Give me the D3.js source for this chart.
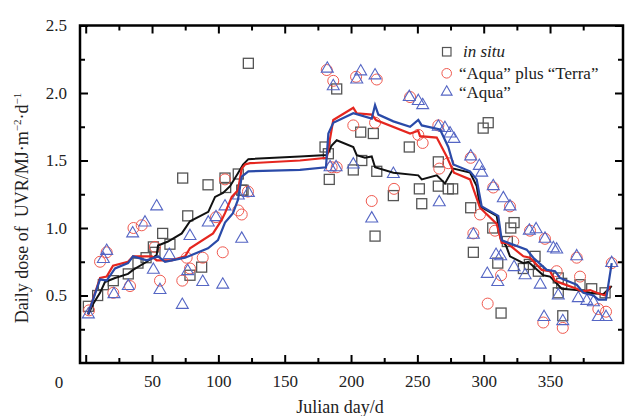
<!DOCTYPE html>
<html>
<head>
<meta charset="utf-8">
<script src="https://cdn.jsdelivr.net/npm/d3@7"></script>
<style>
body { margin: 0; background: #fff; }
text { font-family: "Liberation Serif", "Times New Roman", serif; }
</style>
</head>
<body>
<script>
// in situ measurements [julian day, dose]
var inSitu = [
  [2, 0.42], [9, 0.50], [13.3, 0.58], [20.8, 0.61], [32.1, 0.66], [39.4, 0.74],
  [45.5, 0.78], [51, 0.86], [52.2, 0.82], [58, 0.96], [63.5, 0.88], [73.1, 1.37],
  [76.9, 1.09], [78.6, 0.65], [87.4, 0.71], [92.2, 1.32], [105, 1.37], [105.5, 1.30],
  [115, 1.40], [117.6, 1.28], [118.6, 1.28], [122.6, 2.22],
  [180.4, 1.60], [182.9, 1.55], [183.6, 1.36], [189.2, 2.03], [201.7, 1.43],
  [207.3, 1.71], [208.1, 1.50], [216.8, 1.70], [218.1, 0.94], [219.4, 1.42],
  [231.9, 1.24], [243.9, 1.60], [251.5, 1.29], [253.3, 1.18], [265.8, 1.31],
  [265.8, 1.49], [273.3, 1.29], [276.6, 1.29], [290.2, 1.15], [292.2, 0.82],
  [299.6, 1.74], [303.4, 1.78], [306.8, 1.00], [310.6, 0.74], [313.1, 0.37],
  [317.8, 0.90], [320.4, 1.00], [322.9, 1.04], [329.9, 0.70], [334.4, 0.73],
  [338.7, 0.79], [341.2, 0.68], [356.2, 0.63], [356.2, 0.52], [358.8, 0.59],
  [359.6, 0.35], [372.6, 0.58], [381.4, 0.55], [391.5, 0.52]
];

// "Aqua" plus "Terra"
var aquaTerra = [
  [2.5, 0.39], [10.8, 0.75], [15.8, 0.82], [20.8, 0.52], [33.4, 0.57], [36, 1.00],
  [42.2, 1.02], [52.2, 0.86], [56, 0.61], [72.8, 0.61], [76.1, 0.78], [78.6, 0.70],
  [88.2, 0.78], [98.2, 1.08], [103.3, 0.82], [105, 1.36], [115, 1.13], [117.6, 1.10],
  [122.3, 1.27],
  [181.7, 2.17], [185.4, 1.45], [186.6, 2.09], [189.2, 1.45], [201.7, 1.76],
  [203.8, 2.12], [215.6, 1.20], [218.1, 1.78], [219.4, 2.10], [232.4, 1.29],
  [244.5, 1.97], [250.7, 1.69], [254, 1.63], [265.8, 1.76], [266.5, 1.44],
  [273.3, 1.48], [290.2, 1.52], [292.2, 0.96], [297.2, 1.10], [303, 0.44],
  [307.2, 1.30], [308.5, 0.98], [313.1, 0.65], [319.8, 1.16], [322.3, 0.90],
  [334.9, 0.98], [344.9, 0.30], [346.2, 0.92], [355, 0.68], [359.6, 0.26],
  [370.1, 0.78], [372.6, 0.64], [386.4, 0.40], [392.2, 0.38], [396.5, 0.74]
];

// "Aqua"
var aqua = [
  [2, 0.36], [13.3, 0.77], [15.8, 0.83], [21.3, 0.51], [32.1, 0.57], [35.4, 0.96],
  [44.7, 1.04], [51, 0.69], [53.5, 1.16], [56, 0.54], [63, 0.80], [72.8, 0.43],
  [76.9, 0.68], [78.6, 0.94], [88.2, 0.60], [92.4, 1.04], [98.2, 1.08], [103.3, 0.58],
  [105, 1.16], [115, 1.24], [117.6, 0.92], [122.6, 1.26],
  [182.1, 2.18], [184.2, 1.45], [186.6, 2.05], [188.7, 1.45], [201.7, 1.47],
  [204.3, 2.10], [207.3, 2.16], [215.6, 1.07], [218.1, 2.13], [231.9, 1.40],
  [243.9, 1.97], [250.7, 1.94], [254, 1.91], [265.8, 1.75], [266.5, 1.19],
  [270.8, 1.74], [274.6, 1.70], [277.6, 1.66], [290.2, 1.53], [292.2, 0.95],
  [296.7, 1.46], [298.5, 1.41], [302.7, 0.66], [307.2, 1.31], [309.3, 0.80],
  [310.6, 0.60], [312.8, 0.79], [314.8, 1.22], [319.8, 1.16], [322.9, 0.71],
  [331.2, 0.65], [334.4, 0.98], [339.5, 0.99], [342.6, 0.58], [345.5, 0.34],
  [346.2, 0.92], [352.5, 0.85], [355, 0.84], [356.2, 0.50], [359.6, 0.31],
  [370.1, 0.79], [371.3, 0.48], [377.7, 0.46], [382.7, 0.45], [386.4, 0.34],
  [392.2, 0.34], [396.5, 0.74]
];

// running curves
var inSituLine = [
  [2, 0.36], [5.7, 0.44], [10.8, 0.52], [14.5, 0.60], [22.1, 0.63], [31.9, 0.66],
  [35.7, 0.69], [46, 0.75], [53.5, 0.80], [54.5, 0.87], [62, 0.90], [72.4, 0.96],
  [78.6, 1.05], [92.4, 1.12], [97.5, 1.23], [103.5, 1.26], [108.8, 1.31], [115, 1.41],
  [118.6, 1.47], [122.6, 1.51], [161.5, 1.53], [181.7, 1.54], [185.4, 1.61],
  [189.2, 1.65], [201.7, 1.60], [204.3, 1.54], [210.5, 1.52], [215.6, 1.53],
  [218.1, 1.45], [231.9, 1.41], [250.7, 1.39], [253.3, 1.36], [264.6, 1.39],
  [270.8, 1.33], [277.1, 1.44], [289.7, 1.41], [294.7, 1.31], [297.2, 1.16],
  [309.8, 1.09], [312.8, 0.92], [316.8, 0.87], [319.8, 0.79], [329.9, 0.74],
  [333.6, 0.75], [344.9, 0.65], [350, 0.64], [355, 0.59], [358.8, 0.55],
  [370.1, 0.54], [380.2, 0.52], [390.2, 0.51], [396.5, 0.57]
];

var aquaTerraLine = [
  [1.7, 0.36], [10.8, 0.63], [15.8, 0.64], [20.6, 0.72], [31.9, 0.75], [35.7, 0.79],
  [49.8, 0.79], [53.5, 0.76], [64.8, 0.76], [74.9, 0.79], [78.6, 0.85], [96, 0.96],
  [102.5, 1.06], [105, 1.11], [110.1, 1.23], [114.8, 1.28], [117.6, 1.44],
  [120.1, 1.47], [123.8, 1.48], [161.5, 1.50], [181.7, 1.52], [186.6, 1.80],
  [201.7, 1.89], [204.3, 1.85], [215.6, 1.84], [218.8, 1.80], [244.5, 1.70],
  [250.7, 1.72], [252, 1.68], [264.6, 1.67], [272.1, 1.53], [277.6, 1.41],
  [289.7, 1.36], [297.2, 1.15], [309.8, 1.03], [313.6, 0.89], [317.4, 0.89],
  [329.9, 0.79], [334.9, 0.78], [343.7, 0.69], [350, 0.68], [353.8, 0.61],
  [358.8, 0.59], [370.1, 0.55], [373.9, 0.53], [380.2, 0.54], [385.2, 0.52],
  [391.5, 0.50], [395.2, 0.57]
];

var aquaLine = [
  [1.7, 0.36], [10.8, 0.62], [15.8, 0.61], [22.1, 0.70], [31.9, 0.74], [35.7, 0.79],
  [46, 0.76], [54.5, 0.79], [59.8, 0.75], [74.9, 0.78], [92.2, 0.85], [99.7, 0.91],
  [105, 1.04], [111, 1.11], [114.8, 1.21], [117.6, 1.38], [122.6, 1.42],
  [161.5, 1.43], [181.1, 1.45], [182.9, 1.70], [186.6, 1.78], [201.7, 1.85],
  [215.6, 1.81], [218.1, 1.91], [220.6, 1.84], [231.9, 1.79], [244.5, 1.75],
  [250.7, 1.80], [253.3, 1.76], [267.1, 1.73], [273.3, 1.60], [277.1, 1.47],
  [289.7, 1.42], [294.7, 1.36], [298.5, 1.16], [311, 1.09], [313.6, 0.91],
  [318.6, 0.89], [332.4, 0.84], [337.4, 0.78], [347.5, 0.69], [353.8, 0.68],
  [357.5, 0.63], [370.1, 0.58], [375.1, 0.52], [382.7, 0.50], [386.4, 0.47],
  [392.2, 0.47], [396.5, 0.74]
];

var xMajor = [0, 50, 100, 150, 200, 250, 300, 350];
var xMinor = [25, 75, 125, 175, 225, 275, 325, 375];
var yMajor = [0.5, 1.0, 1.5, 2.0, 2.5];
var yMinor = [0.25, 0.75, 1.25, 1.75, 2.25];
var legendLabels = ['in situ', '\u201cAqua\u201d plus \u201cTerra\u201d', '\u201cAqua\u201d'];

var serif = '"Liberation Serif", "Times New Roman", serif';

var svg = d3.select('body').append('svg')
    .attr('width', 625)
    .attr('height', 416);

var x = d3.scaleLinear().domain([-4.3, 405]).range([80, 623]);
var y = d3.scaleLinear().domain([0, 2.5]).range([363, 25.5]);

// axes, ticks pointing inward on all four sides
svg.append('g').attr('transform', 'translate(0,363)')
    .call(d3.axisBottom(x).tickValues(xMajor).tickSize(-8).tickPadding(12)
        .tickFormat(function(d) { return d === 0 ? '' : d; }));
svg.append('g').attr('transform', 'translate(0,363)')
    .call(d3.axisBottom(x).tickValues(xMinor).tickSize(-5).tickFormat(''));
svg.append('g').attr('transform', 'translate(0,25.5)')
    .call(d3.axisTop(x).tickValues(xMajor).tickSize(-8).tickFormat(''));
svg.append('g').attr('transform', 'translate(0,25.5)')
    .call(d3.axisTop(x).tickValues(xMinor).tickSize(-5).tickFormat(''));
svg.append('g').attr('transform', 'translate(80,0)')
    .call(d3.axisLeft(y).tickValues(yMajor).tickSize(-8).tickPadding(13)
        .tickFormat(d3.format('.1f')));
svg.append('g').attr('transform', 'translate(80,0)')
    .call(d3.axisLeft(y).tickValues(yMinor).tickSize(-5).tickFormat(''));
svg.append('g').attr('transform', 'translate(623,0)')
    .call(d3.axisRight(y).tickValues(yMajor).tickSize(-8).tickFormat(''));
svg.append('g').attr('transform', 'translate(623,0)')
    .call(d3.axisRight(y).tickValues(yMinor).tickSize(-5).tickFormat(''));

svg.selectAll('.domain').remove();
svg.selectAll('.tick line').attr('stroke', '#000').attr('stroke-width', 2);
svg.selectAll('.tick text')
    .attr('fill', '#222')
    .attr('font-family', serif)
    .style('font-family', serif)
    .style('font-size', '17px');

// frame
svg.append('rect')
    .attr('x', 80)
    .attr('y', 25.5)
    .attr('width', 543)
    .attr('height', 337.5)
    .attr('fill', 'none')
    .attr('stroke', '#000')
    .attr('stroke-width', 2.5);

// origin label
svg.append('text')
    .attr('x', 59)
    .attr('y', 388)
    .attr('text-anchor', 'middle')
    .attr('fill', '#222')
    .style('font-size', '17px')
    .text('0');

// axis titles
svg.append('text')
    .attr('x', 340)
    .attr('y', 413)
    .attr('text-anchor', 'middle')
    .attr('fill', '#222')
    .style('font-size', '18px')
    .text('Julian day/d');

var yTitle = svg.append('text')
    .attr('transform', 'translate(28,208) rotate(-90)')
    .attr('text-anchor', 'middle')
    .attr('fill', '#222')
    .style('font-size', '18px');
yTitle.append('tspan').text('Daily dose of\u00a0\u00a0UVR/MJ\u00b7m');
yTitle.append('tspan').attr('dy', -7).style('font-size', '11px').text('\u22122');
yTitle.append('tspan').attr('dy', 7).text('\u00b7d');
yTitle.append('tspan').attr('dy', -7).style('font-size', '11px').text('\u22121');

// scatter markers
var squareColor = '#555', circleColor = '#f05a50', triColor = '#5566c4';
var tri = d3.symbol().type(d3.symbolTriangle).size(62);

svg.append('g').selectAll('rect').data(inSitu).enter().append('rect')
    .attr('x', function(d) { return x(d[0]) - 5; })
    .attr('y', function(d) { return y(d[1]) - 5; })
    .attr('width', 10)
    .attr('height', 10)
    .attr('fill', 'none')
    .attr('stroke', squareColor)
    .attr('stroke-width', 1.3);

svg.append('g').selectAll('circle').data(aquaTerra).enter().append('circle')
    .attr('cx', function(d) { return x(d[0]); })
    .attr('cy', function(d) { return y(d[1]); })
    .attr('r', 5.5)
    .attr('fill', 'none')
    .attr('stroke', circleColor)
    .attr('stroke-width', 1);

svg.append('g').selectAll('path').data(aqua).enter().append('path')
    .attr('d', tri)
    .attr('transform', function(d) { return 'translate(' + x(d[0]) + ',' + y(d[1]) + ')'; })
    .attr('fill', 'none')
    .attr('stroke', triColor)
    .attr('stroke-width', 1.1);

// curves
var line = d3.line()
    .x(function(d) { return x(d[0]); })
    .y(function(d) { return y(d[1]); });

svg.append('path').datum(inSituLine)
    .attr('d', line).attr('fill', 'none').attr('stroke', '#111').attr('stroke-width', 2);
svg.append('path').datum(aquaTerraLine)
    .attr('d', line).attr('fill', 'none').attr('stroke', '#e5261f').attr('stroke-width', 2.2);
svg.append('path').datum(aquaLine)
    .attr('d', line).attr('fill', 'none').attr('stroke', '#2a4aa8').attr('stroke-width', 2.2);

// legend
var legend = svg.append('g');
legend.append('rect')
    .attr('x', 442.5).attr('y', 47.5).attr('width', 8.5).attr('height', 8.5)
    .attr('fill', 'none').attr('stroke', squareColor).attr('stroke-width', 1.2);
legend.append('circle')
    .attr('cx', 446.7).attr('cy', 73.3).attr('r', 4.8)
    .attr('fill', 'none').attr('stroke', circleColor).attr('stroke-width', 1);
legend.append('path')
    .attr('d', d3.symbol().type(d3.symbolTriangle).size(50))
    .attr('transform', 'translate(446.7,92)')
    .attr('fill', 'none').attr('stroke', triColor).attr('stroke-width', 1.1);

legend.selectAll('text').data(legendLabels).enter().append('text')
    .attr('x', function(d, i) { return i === 0 ? 463 : 459; })
    .attr('y', function(d, i) { return [57, 79, 97.5][i]; })
    .attr('fill', '#222')
    .style('font-size', '17px')
    .style('font-style', function(d, i) { return i === 0 ? 'italic' : 'normal'; })
    .text(function(d) { return d; });
</script>
</body>
</html>
